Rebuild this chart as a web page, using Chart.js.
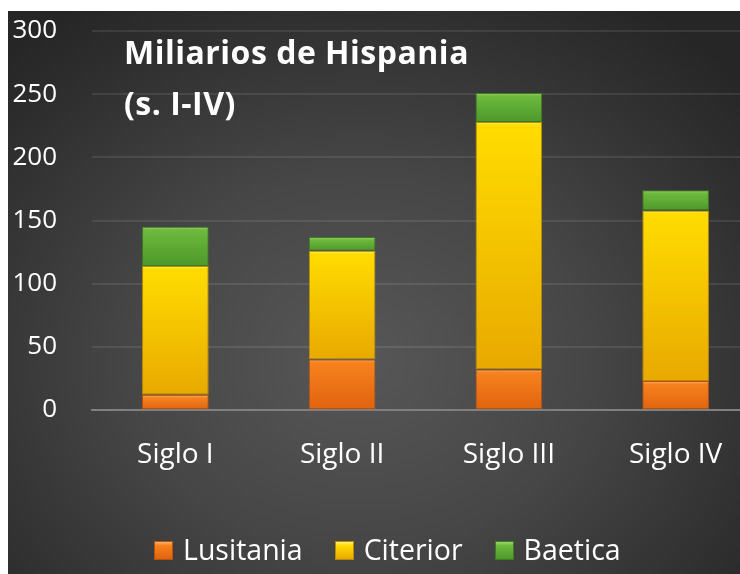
<!DOCTYPE html>
<html lang="es">
<head>
<meta charset="utf-8">
<title>Miliarios de Hispania</title>
<script src="https://cdn.jsdelivr.net/npm/chart.js@4"></script>
<style>
  html, body { margin: 0; padding: 0; background: #fff; overflow: hidden; }
  body { width: 740px; height: 574px; position: relative; font-family: 'Open Sans', sans-serif; }
  .fondo {
    position: absolute; left: 8px; top: 11px; width: 732px; height: 563px;
    background: radial-gradient(ellipse 70% 75% at 48% 62%, #575757 0%, #464646 45%, #2e2e2e 85%, #262626 100%);
  }
  .marco { position: absolute; left: 8px; top: 11px; width: 751px; height: 563px; }
  .titulo {
    position: absolute; left: 124px; top: 26px; color: #fff;
    font-weight: bold; font-size: 32px; line-height: 51px; letter-spacing: 0.5px;
  }
  .leyenda {
    position: absolute; left: 154px; top: 530px; display: flex; align-items: center;
    color: #fff; font-size: 28.5px; line-height: 38px;
  }
  .leyenda span.item { display: flex; align-items: center; margin-right: 32px; }
  .leyenda span.caja { width: 19px; height: 19px; margin: 2px 10px 0 0; box-sizing: border-box; }
</style>
</head>
<body>
<div class="fondo"></div>
<div class="marco"><canvas id="miliariosChart" width="751" height="563"></canvas></div>
<div class="titulo">Miliarios de Hispania<br>(s. I-IV)</div>
<div class="leyenda" id="leyenda"></div>
<script>
// Datos
const siglos = ['Siglo I', 'Siglo II', 'Siglo III', 'Siglo IV'];
const lusitania = [12, 40, 32, 23];
const citerior = [102, 86, 196, 135];
const baetica = [31, 11, 23, 16];
const ticksY = [0, 50, 100, 150, 200, 250, 300];

// Relleno degradado por segmento (brillo arriba, más oscuro abajo)
function relleno(claro, arriba, abajo) {
    return function(ctx) {
        const chart = ctx.chart;
        const y = chart.scales && chart.scales.y;
        if (!chart.chartArea || !y || ctx.type !== 'data') return arriba;
        let base = 0;
        for (let d = 0; d < ctx.datasetIndex; d++) {
            base += chart.data.datasets[d].data[ctx.dataIndex];
        }
        const v = chart.data.datasets[ctx.datasetIndex].data[ctx.dataIndex];
        const y0 = y.getPixelForValue(base + v);
        const y1 = y.getPixelForValue(base);
        const g = chart.ctx.createLinearGradient(0, y0, 0, y1);
        const s = Math.min(0.4, 3 / Math.max(1, y1 - y0));
        g.addColorStop(0, claro);
        g.addColorStop(s, arriba);
        g.addColorStop(1, abajo);
        return g;
    };
}

const series = [
    { label: 'Lusitania', data: lusitania, colores: ['#ffb070', '#f7821e', '#e0620e'], borde: '#b5520c' },
    { label: 'Citerior', data: citerior, colores: ['#fff27a', '#ffdc00', '#e8a900'], borde: '#b88a00' },
    { label: 'Baetica', data: baetica, colores: ['#9ad86a', '#6dba3d', '#4d982b'], borde: '#3d7a22' }
];

Chart.defaults.font.family = "'Open Sans', sans-serif";
Chart.defaults.color = '#ffffff';

const chart = new Chart(document.getElementById('miliariosChart'), {
    type: 'bar',
    data: {
        labels: siglos,
        datasets: series.map(s => ({
            label: s.label,
            data: s.data,
            backgroundColor: relleno(s.colores[0], s.colores[1], s.colores[2]),
            borderColor: s.borde,
            borderWidth: 1,
            borderSkipped: false,
            barPercentage: 0.4,
            categoryPercentage: 1
        }))
    },
    options: {
        responsive: false,
        animation: false,
        layout: { padding: { top: 20, left: 0, right: 0, bottom: 0 } },
        plugins: {
            legend: { display: false },
            tooltip: { enabled: false }
        },
        scales: {
            x: {
                stacked: true,
                grid: { display: false, drawTicks: false },
                border: { display: true, color: '#808080', width: 2 },
                ticks: { color: '#ffffff', font: { size: 28 }, padding: 28 },
                afterFit: function(scale) { scale.height = 164; }
            },
            y: {
                stacked: true,
                min: 0,
                max: 300,
                afterBuildTicks: function(scale) {
                    scale.ticks = ticksY.map(v => ({ value: v }));
                },
                grid: {
                    drawTicks: false,
                    color: function(ctx) {
                        return ctx.tick && ctx.tick.value === 0 ? 'rgba(0,0,0,0)' : 'rgba(255,255,255,0.09)';
                    },
                    lineWidth: 2
                },
                border: { display: false },
                ticks: { color: '#ffffff', font: { size: 26 }, padding: 35 },
                afterFit: function(scale) {
                    scale.width = 84;
                    scale.paddingTop = 0;
                    scale.paddingBottom = 0;
                }
            }
        }
    }
});

// Leyenda en HTML a partir de los datasets
const leyenda = document.getElementById('leyenda');
series.forEach(s => {
    const item = document.createElement('span');
    item.className = 'item';
    const caja = document.createElement('span');
    caja.className = 'caja';
    caja.style.background = 'linear-gradient(to bottom, ' + s.colores[0] + ' 0%, ' + s.colores[1] + ' 20%, ' + s.colores[2] + ' 100%)';
    caja.style.border = '1px solid ' + s.borde;
    const texto = document.createElement('span');
    texto.textContent = s.label;
    item.appendChild(caja);
    item.appendChild(texto);
    leyenda.appendChild(item);
});
</script>
</body>
</html>
